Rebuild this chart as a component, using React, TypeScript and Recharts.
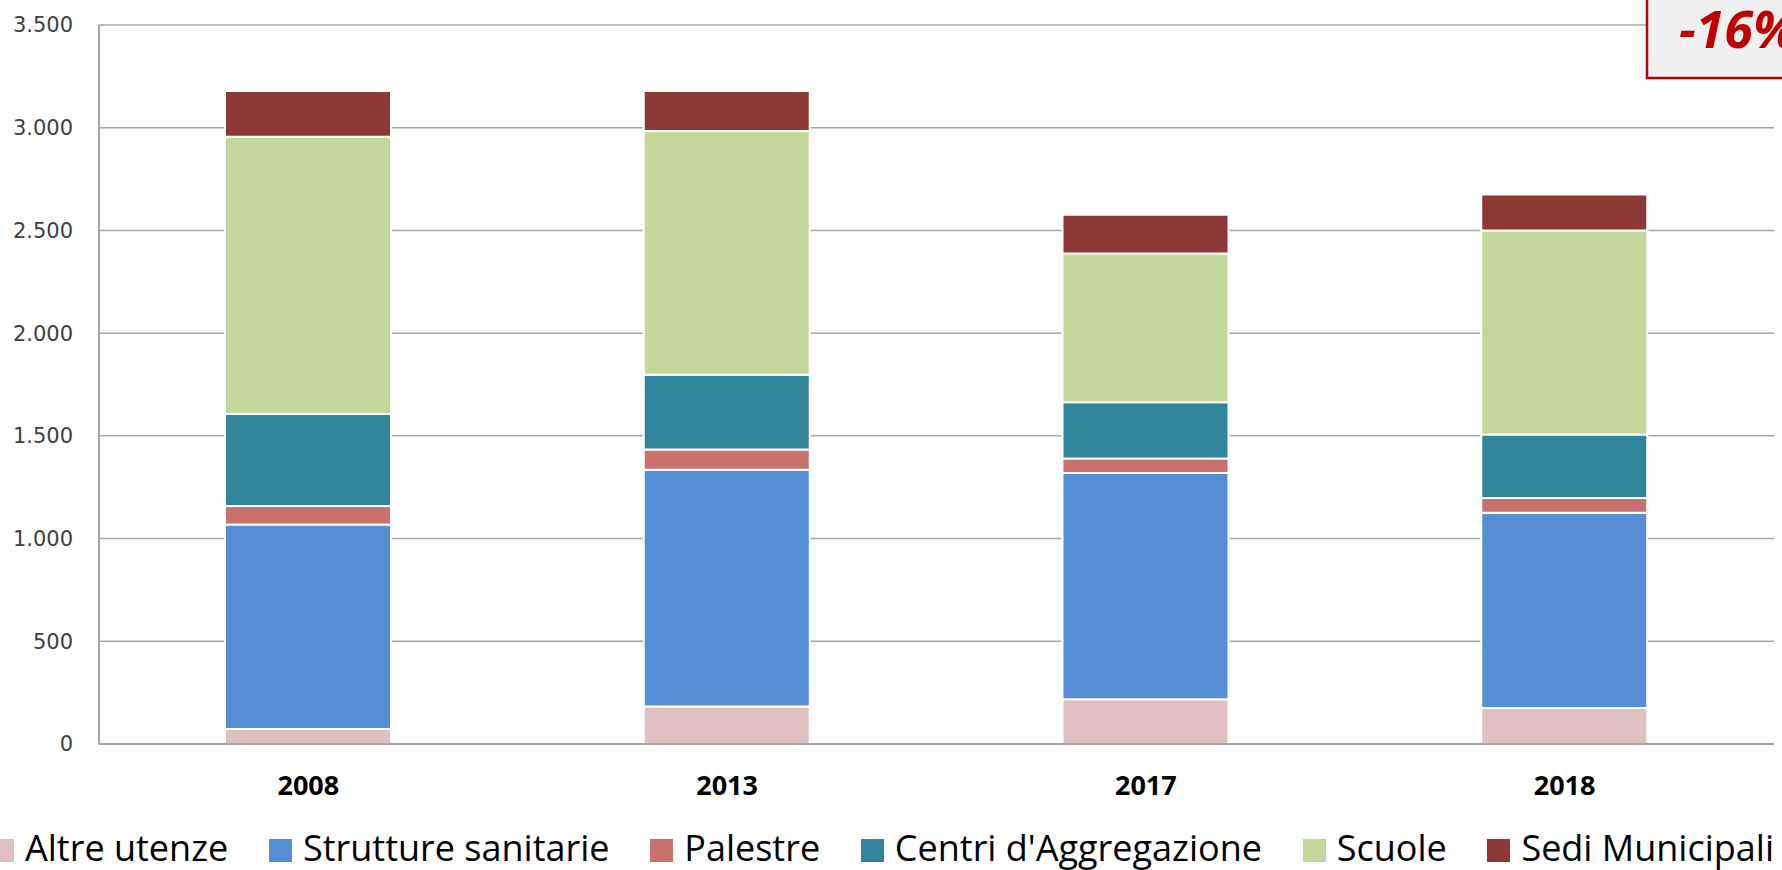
import React from 'react';
import { BarChart, Bar, XAxis, YAxis, CartesianGrid, Legend } from 'recharts';

const years = ['2008', '2013', '2017', '2018'];
const altreUtenze = [73, 182, 218, 175];
const struttureSanitarie = [995, 1153, 1101, 951];
const palestre = [90, 98, 71, 71];
const centriAggregazione = [448, 365, 274, 309];
const scuole = [1350, 1186, 724, 994];
const sediMunicipali = [223, 195, 188, 175];

const yTicks = [0, 500, 1000, 1500, 2000, 2500, 3000, 3500];
const changeLabel = '-16%';

const series = [
  { name: 'Altre utenze', values: altreUtenze, color: '#dfc0c2' },
  { name: 'Strutture sanitarie', values: struttureSanitarie, color: '#558ed5' },
  { name: 'Palestre', values: palestre, color: '#c8716f' },
  { name: "Centri d'Aggregazione", values: centriAggregazione, color: '#31859c' },
  { name: 'Scuole', values: scuole, color: '#c4d79b' },
  { name: 'Sedi Municipali', values: sediMunicipali, color: '#8c3836' },
];

const chartData = years.map((year, i) => {
  const row: Record<string, string | number> = { year };
  series.forEach((s) => {
    row[s.name] = s.values[i];
  });
  return row;
});

// punto come separatore delle migliaia
const formatThousands = (v: number) => String(v).replace(/\B(?=(\d{3})+(?!\d))/g, '.');

const LegendContent = () => (
  <div
    style={{
      display: 'flex',
      justifyContent: 'space-between',
      alignItems: 'center',
      marginLeft: -9,
      width: 1783,
      height: 40,
      fontFamily: '"Open Sans", sans-serif',
      fontSize: 36,
      lineHeight: '40px',
      color: '#000',
      whiteSpace: 'nowrap',
    }}
  >
    {series.map((s) => (
      <div key={s.name} style={{ display: 'flex', alignItems: 'center' }}>
        <span style={{ display: 'inline-block', width: 23, height: 23, background: s.color, marginRight: 11, marginTop: 4 }} />
        <span>{s.name}</span>
      </div>
    ))}
  </div>
);

const App = () => {
  return (
    <div style={{ position: 'absolute', left: 0, top: 0, width: 1782, height: 870, overflow: 'hidden', background: '#fff' }}>
      <BarChart
        width={1782}
        height={870}
        data={chartData}
        margin={{ top: 25, right: 8, bottom: 2, left: 0 }}
      >
        <CartesianGrid vertical={false} stroke="#a6a6a6" strokeWidth={1.5} />
        <XAxis
          dataKey="year"
          height={84}
          tickLine={false}
          tickSize={0}
          tickMargin={32}
          axisLine={{ stroke: '#a6a6a6', strokeWidth: 2 }}
          tick={{ fill: '#000', fontSize: 27, fontWeight: 700, fontFamily: '"Open Sans", sans-serif' }}
        />
        <YAxis
          width={99}
          domain={[0, 3500]}
          ticks={yTicks}
          tickFormatter={formatThousands}
          tickLine={false}
          tickSize={0}
          tickMargin={26}
          axisLine={{ stroke: '#a6a6a6', strokeWidth: 2 }}
          tick={{ fill: '#404040', fontSize: 21, fontFamily: '"DejaVu Sans", sans-serif' }}
        />
        <Legend verticalAlign="bottom" height={40} content={<LegendContent />} />
        {series.map((s) => (
          <Bar
            key={s.name}
            dataKey={s.name}
            stackId="a"
            fill={s.color}
            stroke="#fff"
            strokeWidth={2}
            barSize={166}
            isAnimationActive={false}
          />
        ))}
      </BarChart>
      <svg width={1782} height={870} style={{ position: 'absolute', left: 0, top: 0, pointerEvents: 'none' }}>
        <rect x={1647} y={-10} width={200} height={88} fill="#f0f0f0" stroke="#c00000" strokeWidth={2.5} />
        <text
          x={1679}
          y={48}
          fill="#c00000"
          fontSize={52}
          fontWeight={700}
          fontStyle="italic"
          fontFamily='"Open Sans", sans-serif'
        >
          {changeLabel}
        </text>
      </svg>
    </div>
  );
};

export default App;
